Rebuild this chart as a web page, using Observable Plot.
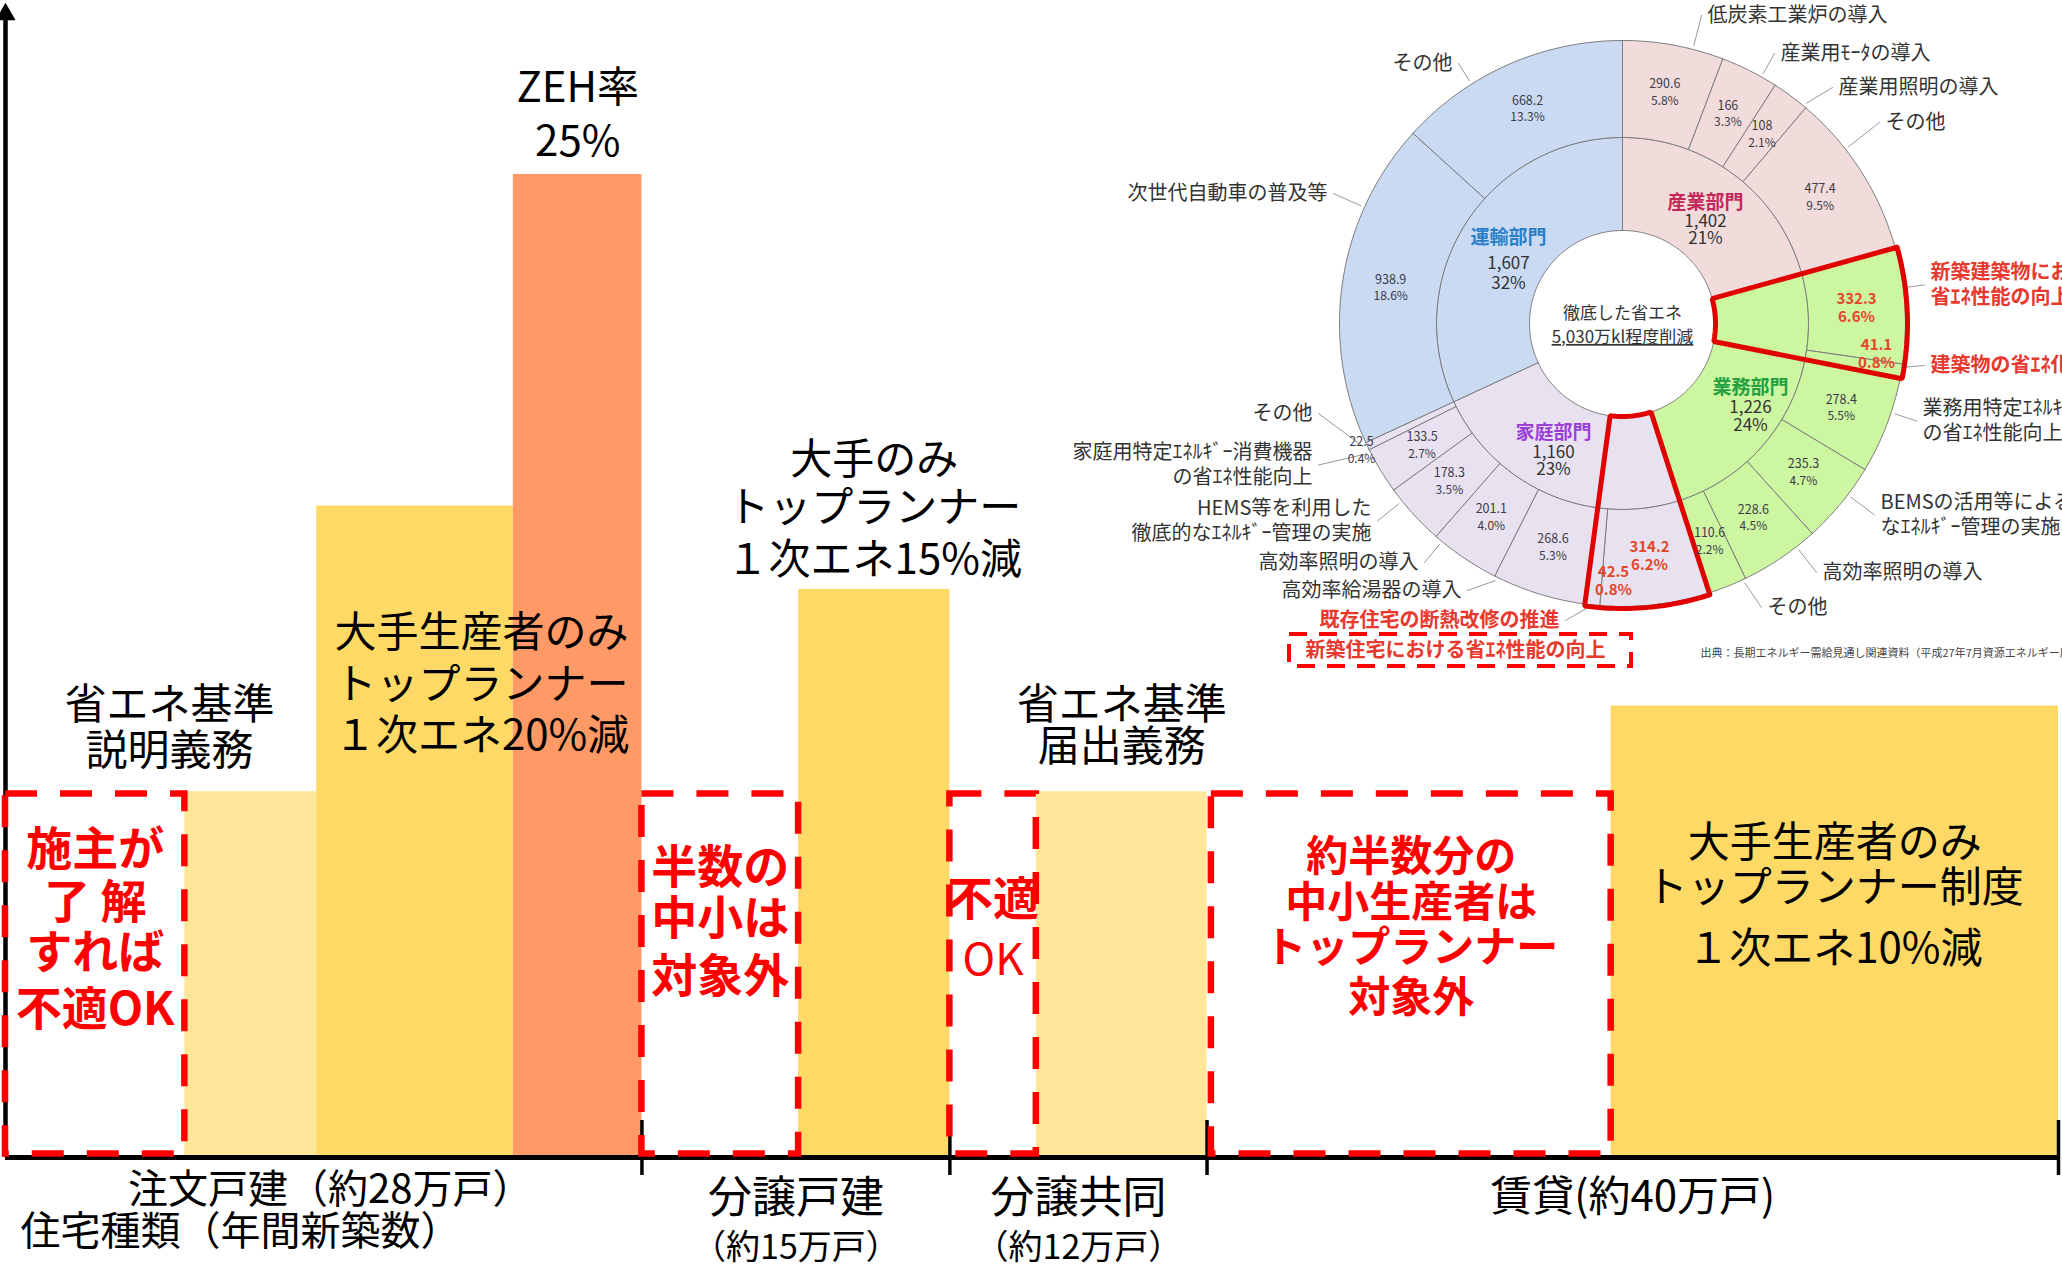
<!DOCTYPE html>
<html lang="ja">
<head>
<meta charset="utf-8">
<script src="https://cdn.jsdelivr.net/npm/d3@7"></script>
<script src="https://cdn.jsdelivr.net/npm/@observablehq/plot@0.6"></script>
<style>
html, body { margin: 0; padding: 0; background: #fff; overflow: hidden; }
#wrap { position: relative; width: 2062px; height: 1269px; font-family: "Noto Sans CJK JP", "Noto Sans", sans-serif; }
#main { position: absolute; left: 0; top: 0; }
#inset { position: absolute; left: 1040px; top: 0; }
</style>
</head>
<body>
<div id="wrap"><div id="main"></div><div id="inset"></div></div>
<script>
// ================= DATA (main chart) =================
const housingTypes = ["注文戸建", "分譲戸建", "分譲共同", "賃貸"];
const housingCount = ["約28万戸", "約15万戸", "約12万戸", "約40万戸"];
// cumulative widths (万戸) as drawn in the picture
const housingBounds = [0, 29.45, 43.7, 55.6, 95];

// regulated bars
const barKinds = ["説明義務", "トップランナー", "ZEH", "トップランナー", "届出義務", "トップランナー"];
const barFrom  = [8.3, 14.4, 23.5, 36.7, 47.7, 74.3];
const barTo    = [14.4, 23.5, 29.45, 43.7, 55.6, 95];
const barLevel = [32, 57, 86, 49.7, 32, 39.5];

// uncovered parts (red dashed frames)
const outFrom  = [0, 29.45, 43.7, 55.8];
const outTo    = [8.3, 36.7, 47.7, 74.3];
const outLevel = [31.8, 31.8, 31.8, 31.8];

const blackNotes = [
  ["ZEH率", "25%"],
  ["大手生産者のみ", "トップランナー", "１次エネ20%減"],
  ["省エネ基準", "説明義務"],
  ["大手のみ", "トップランナー", "１次エネ15%減"],
  ["省エネ基準", "届出義務"],
  ["大手生産者のみ", "トップランナー制度", "１次エネ10%減"]
];
const redNotes = [
  ["施主が", "了 解", "すれば", "不適OK"],
  ["半数の", "中小は", "対象外"],
  ["不適", "OK"],
  ["約半数分の", "中小生産者は", "トップランナー", "対象外"]
];
const axisTitle = "住宅種類（年間新築数）";

// ================= DATA (inset donut) =================
const sectorNames = ["産業部門", "業務部門", "家庭部門", "運輸部門"];
const sectorTotalText = ["1,402", "1,226", "1,160", "1,607"];
const sectorShareText = ["21%", "24%", "23%", "32%"];
const subSector = [0,0,0,0, 1,1,1,1,1,1, 2,2,2,2,2,2,2, 3,3];
const subValue = [290.6, 166, 108, 477.4,
                  332.3, 41.1, 278.4, 235.3, 228.6, 110.6,
                  314.2, 42.5, 268.6, 201.1, 178.3, 133.5, 22.5,
                  938.9, 668.2];
const subShareText = ["5.8%","3.3%","2.1%","9.5%",
                      "6.6%","0.8%","5.5%","4.7%","4.5%","2.2%",
                      "6.2%","0.8%","5.3%","4.0%","3.5%","2.7%","0.4%",
                      "18.6%","13.3%"];
const subLabel = [
  ["低炭素工業炉の導入"], ["産業用ﾓｰﾀの導入"], ["産業用照明の導入"], ["その他"],
  ["新築建築物における", "省ｴﾈ性能の向上"], ["建築物の省ｴﾈ化（改修）"],
  ["業務用特定ｴﾈﾙｷﾞｰ消費機器", "の省ｴﾈ性能向上"], ["BEMSの活用等による徹底的", "なｴﾈﾙｷﾞｰ管理の実施"],
  ["高効率照明の導入"], ["その他"],
  ["新築住宅における省ｴﾈ性能の向上"], ["既存住宅の断熱改修の推進"], ["高効率給湯器の導入"],
  ["高効率照明の導入"], ["HEMS等を利用した", "徹底的なｴﾈﾙｷﾞｰ管理の実施"],
  ["家庭用特定ｴﾈﾙｷﾞｰ消費機器", "の省ｴﾈ性能向上"], ["その他"],
  ["次世代自動車の普及等"], ["その他"]
];
const highlightGroups = [[4, 5], [10, 11]];
const centerText = ["徹底した省エネ", "5,030万kl程度削減"];
const sourceText = "出典：長期エネルギー需給見通し関連資料（平成27年7月資源エネルギー庁）";

// ================= LAYOUT / STYLE =================
const FONT = '"Noto Sans CJK JP", "Noto Sans", sans-serif';
const kindColors = {domain: ["説明義務", "届出義務", "トップランナー", "ZEH"], range: ["#FFE699", "#FFE699", "#FFD966", "#FF9966"]};
const blackNoteX = [26.48, 22.03, 7.59, 40.2, 51.65, 84.65];
const blackNoteY = [[93.5, 88.8], [45.8, 41.3, 36.8], [39.5, 35.5], [61.0, 56.8, 52.2], [39.5, 35.9], [27.5, 23.5, 18.2]];
const redNoteY = [[26.9, 22.2, 17.9, 12.9], [25.3, 20.8, 15.8], [22.5, 17.2], [26.2, 22.2, 18.3, 13.9]];

const DC = [1622, 323];            // donut center (page px)
const RADII = [93, 186, 283];
const sectorFill = ["#F2DCDB", "#CDF6A0", "#E8E2F0", "#C9DAF2"];
const sectorTitleColor = ["#C4285A", "#22A040", "#9B3FD6", "#2A7FC9"];
const sectorTextPos = [[1705, 202, 19, 36], [1750, 387, 20, 38], [1553, 432, 20, 37], [1508, 237, 26, 46]];
const valueOverride = {5: [1876, 354], 11: [1613, 581], 16: [1361, 450]};
const calloutPos = [
  [1707, 15, "start"], [1780, 53, "start"], [1838, 87, "start"], [1885, 122, "start"],
  [1930, 272, "start"], [1930, 365, "start"], [1922, 408, "start"], [1880, 502, "start"],
  [1822, 572, "start"], [1767, 607, "start"],
  [1305, 650, "start"], [1559, 620, "end"], [1461, 590, "end"], [1418, 562, "end"],
  [1371, 508, "end"], [1312, 452, "end"], [1312, 413, "end"], [1327, 193, "end"], [1452, 63, "end"]
];
const redCallouts = new Set([4, 5, 10, 11]);

// ================= MAIN CHART =================
const W = 2062, H = 1269;
const bars = barKinds.map((k, i) => ({kind: k, from: barFrom[i], to: barTo[i], level: barLevel[i]}));
const boxes = outFrom.map((f, i) => ({from: f, to: outTo[i], level: outLevel[i]}));
const blackRows = blackNotes.flatMap((lines, i) => lines.map((t, j) => ({t, x: blackNoteX[i], y: blackNoteY[i][j]})));
const redRows = redNotes.flatMap((lines, i) => lines.map((t, j) => ({t, x: (outFrom[i] + outTo[i]) / 2, y: redNoteY[i][j], g: i, j})));
const gc = i => (housingBounds[i] + housingBounds[i + 1]) / 2;
const axis40 = [
  {t: housingTypes[0] + "（" + housingCount[0] + "）", x: gc(0) + 0.3, y: -2.9},
  {t: axisTitle, x: 10.87, y: -6.56}
];
const axis44 = [1, 2].map(i => ({t: housingTypes[i], x: gc(i), y: -3.6}));
const axis34 = [1, 2].map(i => ({t: "（" + housingCount[i] + "）", x: gc(i), y: -7.96}));
const axis42 = [{t: housingTypes[3] + "(" + housingCount[3] + ")", x: gc(3), y: -3.5}];

const main = Plot.plot({
  width: W, height: H,
  marginLeft: 5, marginRight: 4, marginTop: 14, marginBottom: H - 1157,
  x: {domain: [0, 95], axis: null},
  y: {domain: [0, 100], axis: null},
  color: kindColors,
  style: {fontFamily: FONT, background: "transparent", overflow: "visible"},
  marks: [
    Plot.rect(bars, {x1: "from", x2: "to", y1: 0, y2: "level", fill: "kind"}),
    Plot.ruleY([0], {stroke: "black", strokeWidth: 5}),
    Plot.ruleX(housingBounds.slice(1), {y1: 3.24, y2: -1.57, stroke: "black", strokeWidth: 3.5}),
    Plot.ruleX([0], {y1: 0, y2: 100, stroke: "black", strokeWidth: 4.5}),
    Plot.dot([0], {x: d => d, y: () => 100, symbol: "triangle", r: 7.5, fill: "black", stroke: "none"}),
    Plot.rect(boxes, {x1: "from", x2: "to", y1: 0.3, y2: "level", fill: "none", stroke: "#FF0000", strokeWidth: 6.5, strokeDasharray: "32,23"}),
    Plot.text(blackRows, {x: "x", y: "y", text: "t", fontSize: 42, fill: "black", fontFamily: FONT}),
    Plot.text(redRows.filter(d => d.g < 2 || (d.g === 2 && d.j === 0)), {x: "x", y: "y", text: "t", fontSize: 46, fontWeight: "bold", fill: "#FF0000", fontFamily: FONT}),
    Plot.text(redRows.filter(d => d.g === 2 && d.j > 0), {x: "x", y: "y", text: "t", fontSize: 44, fill: "#FF0000", fontFamily: FONT}),
    Plot.text(redRows.filter(d => d.g === 3), {x: "x", y: "y", text: "t", fontSize: 42, fontWeight: "bold", fill: "#FF0000", fontFamily: FONT}),
    Plot.text(axis40, {x: "x", y: "y", text: "t", fontSize: 40, fill: "black", fontFamily: FONT}),
    Plot.text(axis44, {x: "x", y: "y", text: "t", fontSize: 44, fill: "black", fontFamily: FONT}),
    Plot.text(axis34, {x: "x", y: "y", text: "t", fontSize: 34, fill: "black", fontFamily: FONT}),
    Plot.text(axis42, {x: "x", y: "y", text: "t", fontSize: 42, fill: "black", fontFamily: FONT})
  ]
});
document.getElementById("main").appendChild(main);

// ================= INSET DONUT =================
const total = d3.sum(subValue);
const cum = [0, ...d3.cumsum(subValue)];
const ang = v => v / total * 2 * Math.PI;
const pt = (a, r) => [DC[0] + r * Math.sin(a), DC[1] - r * Math.cos(a)];
function ringPoly(id, key, a0, a1, r0, r1) {
  const n = Math.max(2, Math.ceil((a1 - a0) / (Math.PI / 180)));
  const pts = [];
  for (let i = 0; i <= n; i++) { const [x, y] = pt(a0 + (a1 - a0) * i / n, r1); pts.push({id, key, x, y}); }
  for (let i = n; i >= 0; i--) { const [x, y] = pt(a0 + (a1 - a0) * i / n, r0); pts.push({id, key, x, y}); }
  pts.push({...pts[0]});
  return pts;
}
// inner ring: sectors
const innerPts = sectorNames.flatMap((s, k) => {
  const idx = subSector.map((g, i) => g === k ? i : -1).filter(i => i >= 0);
  const a0 = ang(cum[idx[0]]), a1 = ang(cum[idx[idx.length - 1] + 1]);
  return ringPoly("in" + k, s, a0, a1, RADII[0], RADII[1]);
});
// outer ring: sub-measures
const outerPts = subValue.flatMap((v, i) => ringPoly("out" + i, sectorNames[subSector[i]], ang(cum[i]), ang(cum[i + 1]), RADII[1], RADII[2]));
// red highlight wedges
const hlPts = highlightGroups.flatMap((g, k) => ringPoly("hl" + k, "hl", ang(cum[g[0]]), ang(cum[g[g.length - 1] + 1]), RADII[0], RADII[2] + 2));

// value labels
const hlSet = new Set(highlightGroups.flat());
const valRows = subValue.map((v, i) => {
  const a = ang((cum[i] + cum[i + 1]) / 2);
  const [x, y] = valueOverride[i] || pt(a, (RADII[1] + RADII[2]) / 2);
  return {x, y, v: String(v), p: subShareText[i], red: hlSet.has(i)};
});

// sector labels
const secRows = sectorNames.flatMap((s, k) => {
  const [x, y, g1, g2] = sectorTextPos[k];
  return [{x, y, t: s, k, line: 0}, {x, y: y + g1, t: sectorTotalText[k], k, line: 1}, {x, y: y + g2, t: sectorShareText[k], k, line: 2}];
});

// callouts
const calloutRows = subLabel.flatMap((lines, i) => lines.map((t, j) => ({
  t, x: calloutPos[i][0], y: calloutPos[i][1] + j * 25, anchor: calloutPos[i][2], red: redCallouts.has(i)
})));
// leader lines: from label to nearest point on the slice's outer edge
const leaderPts = subLabel.flatMap((lines, i) => {
  if (i === 10) return [];
  const [lx, ly0, anchor] = calloutPos[i];
  const ly = ly0 + (lines.length - 1) * 12.5;
  const sx = anchor === "start" ? lx - 6 : lx + 6;
  let a = Math.atan2(sx - DC[0], -(ly - DC[1]));
  if (a < 0) a += 2 * Math.PI;
  const a0 = ang(cum[i]), a1 = ang(cum[i + 1]);
  const pad = Math.min(0.5 * Math.PI / 180, (a1 - a0) / 3);
  a = Math.max(a0 + pad, Math.min(a1 - pad, a));
  const [ex, ey] = pt(a, RADII[2] + 4);
  return [{id: i, x: sx, y: ly}, {id: i, x: ex, y: ey}];
});

const XI = {domain: [1040, 2062], range: [0, 1022], axis: null};
const YI = {domain: [0, 690], range: [0, 690], axis: null};
const txt = (data, o) => Plot.text(data, {x: "x", y: "y", text: "t", fontFamily: FONT, ...o});

const inset = Plot.plot({
  width: 1022, height: 690, margin: 0,
  x: XI, y: YI,
  color: {domain: sectorNames, range: sectorFill},
  style: {fontFamily: FONT, background: "transparent"},
  marks: [
    Plot.line(leaderPts, {x: "x", y: "y", z: "id", stroke: "#9a9a9a", strokeWidth: 1}),
    Plot.line(innerPts, {x: "x", y: "y", z: "id", fill: "key", stroke: "#7d7d7d", strokeWidth: 1}),
    Plot.line(outerPts, {x: "x", y: "y", z: "id", fill: "key", stroke: "#7d7d7d", strokeWidth: 1}),
    Plot.line(hlPts, {x: "x", y: "y", z: "id", fill: "none", stroke: "#E00000", strokeWidth: 5, strokeLinejoin: "miter"}),
    // outer values
    Plot.text(valRows.filter(d => !d.red), {x: "x", y: "y", text: "v", dy: -8.5, fontSize: 12.5, fill: "#3a3a4a", fontFamily: FONT}),
    Plot.text(valRows.filter(d => !d.red), {x: "x", y: "y", text: "p", dy: 8.5, fontSize: 12, fill: "#3a3a4a", fontFamily: FONT}),
    Plot.text(valRows.filter(d => d.red), {x: "x", y: "y", text: "v", dy: -9, fontSize: 15, fontWeight: "bold", fill: "#E4462A", fontFamily: FONT}),
    Plot.text(valRows.filter(d => d.red), {x: "x", y: "y", text: "p", dy: 9, fontSize: 15, fontWeight: "bold", fill: "#E4462A", fontFamily: FONT}),
    // sector labels
    ...sectorNames.map((s, k) => txt(secRows.filter(d => d.k === k && d.line === 0), {fontSize: 19, fontWeight: "bold", fill: sectorTitleColor[k]})),
    txt(secRows.filter(d => d.line > 0), {fontSize: 17, fill: "#333"}),
    // center
    Plot.text([centerText[0]], {x: () => DC[0], y: () => DC[1] - 10, text: d => d, fontSize: 17, fill: "#333", fontFamily: FONT}),
    Plot.text([centerText[1]], {x: () => DC[0], y: () => DC[1] + 14, text: d => d, fontSize: 17, fill: "#333", fontFamily: FONT}),
    // callouts
    txt(calloutRows.filter(d => d.anchor === "start" && !d.red), {textAnchor: "start", fontSize: 20, fill: "#333"}),
    txt(calloutRows.filter(d => d.anchor === "end" && !d.red), {textAnchor: "end", fontSize: 20, fill: "#333"}),
    txt(calloutRows.filter(d => d.anchor === "start" && d.red), {textAnchor: "start", fontSize: 20, fontWeight: "bold", fill: "#E8392E"}),
    txt(calloutRows.filter(d => d.anchor === "end" && d.red), {textAnchor: "end", fontSize: 20, fontWeight: "bold", fill: "#E8392E"}),
    Plot.rect([0], {x1: () => 1289, x2: () => 1631, y1: () => 634, y2: () => 666, fill: "none", stroke: "#FF0000", strokeWidth: 4, strokeDasharray: "18,12"}),
    Plot.text([sourceText], {x: () => 1700, y: () => 653, text: d => d, textAnchor: "start", fontSize: 11, fill: "#444", fontFamily: FONT})
  ]
});
document.getElementById("inset").appendChild(inset);
// underline the total in the donut's center
inset.querySelectorAll("text").forEach(t => { if (t.textContent === centerText[1]) t.style.textDecoration = "underline"; });
</script>
</body>
</html>
